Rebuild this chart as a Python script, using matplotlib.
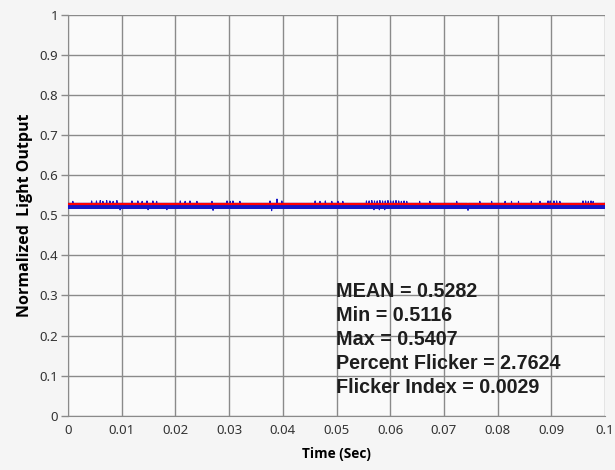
import numpy as np
import matplotlib
matplotlib.use("Agg")
import matplotlib.pyplot as plt

# values
yTicks = [0, 0.1, 0.2, 0.3, 0.4, 0.5, 0.6, 0.7, 0.8, 0.9, 1]
yLabels = ["0", "0.1", "0.2", "0.3", "0.4", "0.5", "0.6", "0.7", "0.8", "0.9", "1"]
xTicks = [0, 0.01, 0.02, 0.03, 0.04, 0.05, 0.06, 0.07, 0.08, 0.09, 0.1]
xLabels = ["0", "0.01", "0.02", "0.03", "0.04", "0.05", "0.06", "0.07", "0.08", "0.09", "0.1"]

meanValue = 0.5282
bandLow = 0.5175
bandHigh = 0.5300
nSamples = 2000

spikeUpTimes = [0.0009, 0.0044, 0.0053, 0.0060, 0.0065, 0.0072, 0.0078, 0.0084,
                0.0091, 0.0097, 0.0119, 0.0130, 0.0138, 0.0147, 0.0158, 0.0165,
                0.0209, 0.0218, 0.0227, 0.0240, 0.0268, 0.0296, 0.0302, 0.0307,
                0.0320, 0.0376, 0.0389, 0.0398, 0.0460, 0.0469, 0.0479, 0.0491,
                0.0503, 0.0512, 0.0556, 0.0561, 0.0566, 0.0571, 0.0576, 0.0581,
                0.0586, 0.0591, 0.0596, 0.0601, 0.0606, 0.0611, 0.0616, 0.0621,
                0.0626, 0.0631, 0.0655, 0.0674, 0.0724, 0.0745, 0.0767, 0.0789,
                0.0814, 0.0826, 0.0839, 0.0863, 0.0879, 0.0894, 0.0898, 0.0905,
                0.0910, 0.0916, 0.0959, 0.0964, 0.0969, 0.0974, 0.0978]
spikeUpValues = [0.535, 0.536, 0.536, 0.537, 0.535, 0.537, 0.536, 0.535,
                 0.537, 0.535, 0.536, 0.536, 0.535, 0.536, 0.536, 0.535,
                 0.536, 0.535, 0.536, 0.535, 0.535, 0.536, 0.535, 0.536,
                 0.535, 0.536, 0.5407, 0.536, 0.536, 0.535, 0.536, 0.535,
                 0.535, 0.535, 0.536, 0.536, 0.537, 0.536, 0.536, 0.537,
                 0.536, 0.536, 0.537, 0.536, 0.536, 0.537, 0.536, 0.535,
                 0.536, 0.535, 0.535, 0.535, 0.535, 0.535, 0.535, 0.535,
                 0.535, 0.535, 0.535, 0.535, 0.535, 0.536, 0.536, 0.536,
                 0.536, 0.535, 0.536, 0.536, 0.535, 0.536, 0.535]
spikeDownTimes = [0.0097, 0.0149, 0.0184, 0.0270, 0.0379, 0.0570, 0.0580, 0.0590, 0.0745]
spikeDownValues = [0.5135, 0.514, 0.514, 0.5125, 0.5116, 0.514, 0.514, 0.514, 0.5125]

stats = ["MEAN = 0.5282", "Min = 0.5116", "Max = 0.5407",
         "Percent Flicker = 2.7624", "Flicker Index = 0.0029"]


def buildSignal():
    t = np.linspace(0, 0.1, nSamples)
    y = np.where(np.arange(nSamples) % 2 == 0, bandLow, bandHigh)
    for ts, v in zip(spikeUpTimes + spikeDownTimes, spikeUpValues + spikeDownValues):
        y[np.argmin(np.abs(t - ts))] = v
    return t, y


def plotFlicker():
    fig = plt.figure(figsize=(6.15, 4.70), dpi=100, facecolor="#f5f5f5")
    ax = fig.add_axes([68 / 615, 1 - 415.7 / 470, 537 / 615, 400.7 / 470])
    ax.set_facecolor("#fafafa")
    gridColor = "#8a8a8a"

    t, y = buildSignal()
    ax.plot(t, y, color="#1414c8", lw=0.8, zorder=3)
    ax.axhline(meanValue, color="#ff0000", lw=1.6, zorder=4)

    ax.set_xlim(0, 0.1)
    ax.set_ylim(0, 1)
    ax.set_xticks(xTicks)
    ax.set_xticklabels(xLabels)
    ax.set_yticks(yTicks)
    ax.set_yticklabels(yLabels)
    ax.grid(True, color=gridColor, lw=1.0)
    ax.set_axisbelow(True)
    for side in ["top", "right"]:
        ax.spines[side].set_visible(False)
    for side in ["left", "bottom"]:
        ax.spines[side].set_color(gridColor)
    ax.tick_params(axis="y", length=5, width=1, color=gridColor, colors="#333333",
                   labelsize=9.5, pad=2)
    ax.tick_params(axis="x", length=0, colors="#333333", labelsize=9.5, pad=6)
    for lbl in ax.get_xticklabels() + ax.get_yticklabels():
        lbl.set_family("Noto Sans")
        lbl.set_color("#333333")

    ax.set_xlabel("Time (Sec)", fontsize=9.8, fontweight="bold",
                  family=["Open Sans", "DejaVu Sans"], labelpad=7)
    ax.set_ylabel("Normalized  Light Output", fontsize=11.5, fontweight="bold",
                  family=["Open Sans", "DejaVu Sans"], labelpad=5)

    for i, s in enumerate(stats):
        ax.text(0.499, 0.3095 - i * 0.06, s, transform=ax.transAxes, va="center",
                ha="left", fontsize=14.2, fontweight="bold",
                family="Liberation Sans", color="#1e1e1e", zorder=5)

    fig.savefig("out.png", dpi=100, facecolor=fig.get_facecolor())
    plt.close(fig)


plotFlicker()
